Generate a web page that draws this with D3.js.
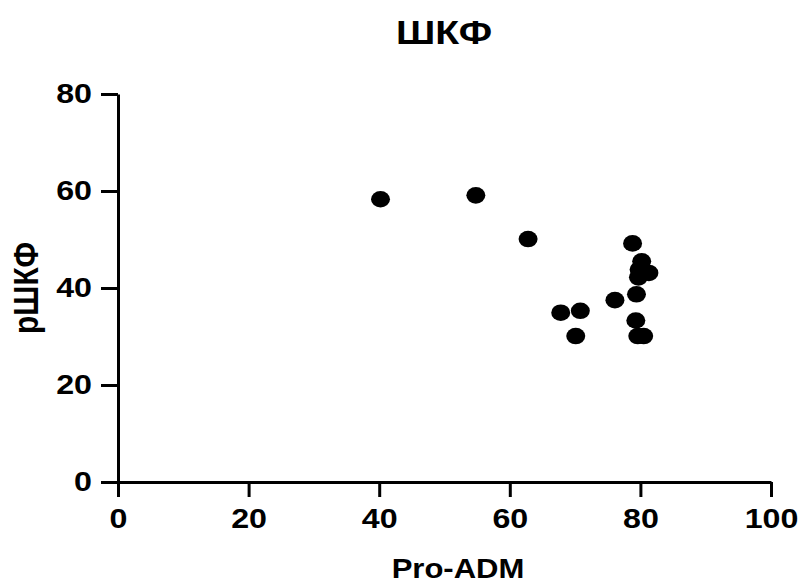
<!DOCTYPE html>
<html>
<head>
<meta charset="utf-8">
<script src="https://cdn.jsdelivr.net/npm/d3@7"></script>
<style>
  body { margin: 0; background: #fff; }
  text { font-family: "Liberation Sans", Arial, sans-serif; font-weight: bold; }
</style>
</head>
<body>
<div id="chart"></div>
<script>
var w = 800, h = 583
// the picture looks stretched sideways a bit, so text gets the same stretch
var stretch = 1.15

// values
var pro_adm = [40.2, 54.8, 62.8, 78.8, 80.2, 79.8, 81.3, 79.7, 79.4, 76.1, 67.8, 70.8, 79.3, 70.1, 79.6, 80.5]
var rshkf   = [58.3, 59.1, 50.1, 49.2, 45.5, 43.8, 43.1, 42.2, 38.7, 37.5, 34.9, 35.3, 33.3, 30.1, 30.1, 30.1]
var x_ticks = [0, 20, 40, 60, 80, 100]
var y_ticks = [0, 20, 40, 60, 80]

var title = "ШКФ", x_title = "Pro-ADM", y_title = "рШКФ"

var svg = d3.select("#chart").append("svg")
  .attr("width", w)
  .attr("height", h)

var x = d3.scaleLinear().domain([0, 100]).range([118, 771])
var y = d3.scaleLinear().domain([0, 80]).range([482, 94])

var x_axis = d3.axisBottom(x).tickValues(x_ticks).tickSize(15).tickSizeOuter(0).tickPadding(11)
var y_axis = d3.axisLeft(y).tickValues(y_ticks).tickSize(17).tickSizeOuter(0).tickPadding(9)

var gx = svg.append("g").attr("transform", "translate(0," + y(0) + ")").call(x_axis)
var gy = svg.append("g").attr("transform", "translate(" + x(0) + ",0)").call(y_axis)

;[gx, gy].forEach(function(g) {
  g.select(".domain").attr("stroke", "#000").attr("stroke-width", 3)
  g.selectAll(".tick line").attr("stroke", "#000").attr("stroke-width", 3)
  g.selectAll(".tick text")
    .attr("fill", "#000")
    .style("font-size", "28px")
    .style("font-family", "'Liberation Sans', Arial, sans-serif")
    .style("font-weight", "bold")
    .attr("transform", "scale(" + stretch + ",1)")
})
// y labels: keep right edge where it was after the stretch
gy.selectAll(".tick text").attr("x", -26 / stretch)

svg.append("g")
  .selectAll("ellipse")
  .data(pro_adm)
  .enter().append("ellipse")
  .attr("cx", function(d) { return x(d) })
  .attr("cy", function(d, i) { return y(rshkf[i]) })
  .attr("rx", 9.5)
  .attr("ry", 8.3)
  .attr("fill", "#000")

svg.append("text")
  .attr("transform", "translate(444,44) scale(" + stretch + ",1)")
  .attr("text-anchor", "middle")
  .style("font-size", "34px")
  .text(title)

svg.append("text")
  .attr("transform", "translate(458,578) scale(" + stretch + ",1)")
  .attr("text-anchor", "middle")
  .style("font-size", "27px")
  .text(x_title)

svg.append("text")
  .attr("transform", "translate(38,288) scale(" + stretch + ",1) rotate(-90)")
  .attr("text-anchor", "middle")
  .style("font-size", "30px")
  .text(y_title)
</script>
</body>
</html>
